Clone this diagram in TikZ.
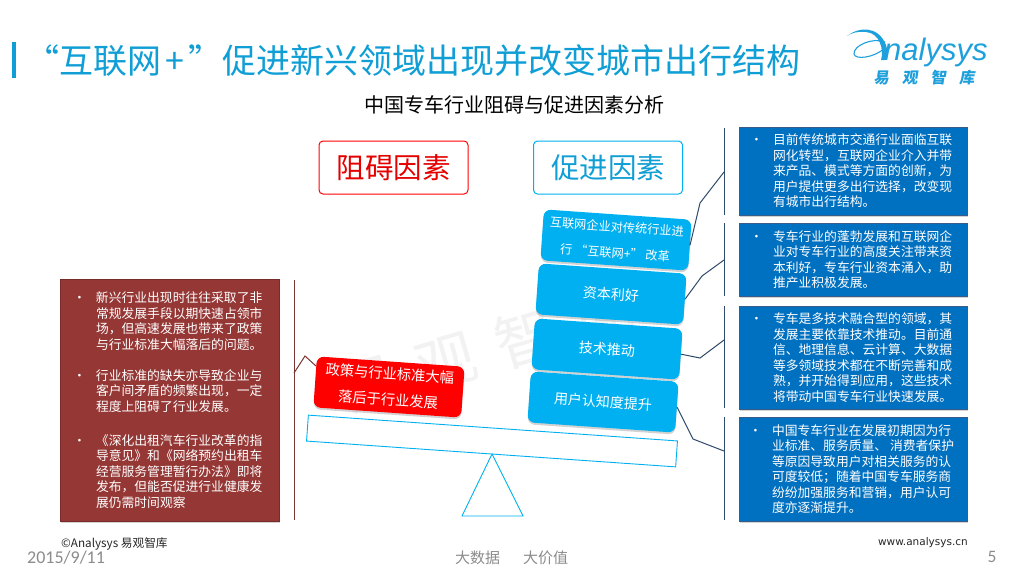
\documentclass[tikz,border=0pt]{standalone}
\usepackage{fontspec}
\usetikzlibrary{shadows}
\setmainfont{Noto Sans CJK SC}
\newfontfamily\latinfont{Carlito}
\newfontfamily\webfont{DejaVu Sans}
\newfontfamily\logofont{Liberation Sans}
\newfontfamily\logocn[FakeSlant=0.15]{Noto Sans CJK SC}
\definecolor{titleblue}{HTML}{0F9ED5}
\definecolor{pillblue}{HTML}{00B0F0}
\definecolor{boxblue}{HTML}{0070C0}
\definecolor{boxedge}{HTML}{385D8A}
\definecolor{boxred}{HTML}{953735}
\definecolor{linedark}{HTML}{2F4A6A}
\definecolor{linered}{HTML}{7A3434}
\definecolor{logoblue}{HTML}{1EA0DC}
\newcommand\sz[2]{\fontsize{#1}{#2}\selectfont}
% #1 box width, #2 left pad, #3 lines
\newcommand\bulletbox[3]{\raisebox{-2pt}{\makebox[#1pt][l]{\hspace*{#2pt}\parbox[c]{\dimexpr#1pt-#2pt\relax}{\raggedright\sz{12.8}{15.5}#3}}}}
\newcommand\bul{\leavevmode\llap{•\hspace{10pt}}}
\tikzset{
  pill/.style={fill=pillblue,text=white,rounded corners=7pt,minimum width=148pt,minimum height=51pt,inner sep=0pt,align=center,rotate=-4,font=\sz{14}{26},
    drop shadow={opacity=.35,shadow xshift=0pt,shadow yshift=-2pt}},
  redpill/.style={pill,fill=red,font=\sz{14.3}{26}},
  infobox/.style={draw=boxedge,line width=.8pt,fill=boxblue,text=white,inner sep=0pt,minimum width=228pt,
    drop shadow={opacity=.35,shadow xshift=1pt,shadow yshift=-2pt}},
  leftbox/.style={infobox,draw=boxred!80!black,fill=boxred,minimum width=219pt},
  headbox/.style={draw,line width=1pt,fill=white,rounded corners=4pt,minimum width=149pt,minimum height=53pt,inner sep=0pt,font=\sz{28.5}{30}},
  bracket/.style={line width=1pt,linedark},
  link/.style={line width=1pt,linedark},
  redlink/.style={line width=1pt,linered},
  scale part/.style={draw=pillblue,line width=.9pt,fill=white},
  foot/.style={inner sep=0pt,text=gray!90},
}
\begin{document}
\begin{tikzpicture}[x=1pt,y=-1pt]
\useasboundingbox (0,0) rectangle (1024,576);
\fill[white] (0,0) rectangle (1024,576);
% watermark
\node[rotate=16,text=gray!10,font=\sz{60}{60},inner sep=0pt] (wm) at (486,350) {易\hspace{22pt}观\hspace{22pt}智\hspace{22pt}库};
% title
\fill[titleblue] (12,42) rectangle (15.5,78);
\node[anchor=west,inner sep=0pt,text=titleblue,font=\sz{34}{38}] (title) at (25,61) {“互联网\hspace{4pt}+\hspace{4pt}”促进新兴领域出现并改变城市出行结构};
\node[inner sep=0pt,font=\sz{20}{24}] (sub) at (514,105) {中国专车行业阻碍与促进因素分析};
% logo
\fill[logoblue] (847,36) .. controls (858,27) and (878,25) .. (886,45) .. controls (888,50) and (887,55) .. (885,60) -- (881,60) .. controls (884,50) and (880,33) .. (866,32) .. controls (858,31) and (851,33) .. (847,36) -- cycle;
\draw[logoblue,line width=1.1pt] (885,42) .. controls (872,37) and (853,46) .. (854,54) .. controls (855,60) and (874,58) .. (885,48);
\node[anchor=base west,inner sep=0pt,text=logoblue,font=\logofont\itshape\sz{31}{33}] (logo) at (884,60) {nalysys};
\node[anchor=center,inner sep=0pt,text=logoblue,font=\logocn\bfseries\sz{15.5}{18}] (logocn) at (924,78) {易\hspace{13pt}观\hspace{13pt}智\hspace{13pt}库};
% heads
\node[headbox,draw=red,text=red!90!black] (hinder) at (393.5,167.5) {阻碍因素};
\node[headbox,draw=pillblue,text=titleblue] (promote) at (608,167.5) {促进因素};
% left box
\node[leftbox,minimum height=242pt] (lb) at (169.5,400) {\bulletbox{219}{36}{%
\bul 新兴行业出现时往往采取了非\\常规发展手段以期快速占领市\\场，但高速发展也带来了政策\\与行业标准大幅落后的问题。\\[15.5pt]
\bul 行业标准的缺失亦导致企业与\\客户间矛盾的频繁出现，一定\\程度上阻碍了行业发展。\\[18.5pt]
\bul 《深化出租汽车行业改革的指\\导意见》和《网络预约出租车\\经营服务管理暂行办法》即将\\发布，但能否促进行业健康发\\展仍需时间观察}};
% right boxes
\node[infobox,minimum height=88pt] (r1) at (853,171) {\bulletbox{228}{34}{%
\bul 目前传统城市交通行业面临互联\\网化转型，互联网企业介入并带\\来产品、模式等方面的创新，为\\用户提供更多出行选择，改变现\\有城市出行结构。}};
\node[infobox,minimum height=73pt] (r2) at (853,259.5) {\bulletbox{228}{34}{%
\bul 专车行业的蓬勃发展和互联网企\\业对专车行业的高度关注带来资\\本利好，专车行业资本涌入，助\\推产业积极发展。}};
\node[infobox,minimum height=103pt] (r3) at (853,357.5) {\bulletbox{228}{34}{%
\bul 专车是多技术融合型的领域，其\\发展主要依靠技术推动。目前通\\信、地理信息、云计算、大数据\\等多领域技术都在不断完善和成\\熟，并开始得到应用，这些技术\\将带动中国专车行业快速发展。}};
\node[infobox,minimum height=104pt] (r4) at (853,469) {\bulletbox{228}{33}{%
\bul 中国专车行业在发展初期因为行\\业标准、服务质量、 消费者保护\\等原因导致用户对相关服务的认\\可度较低；随着中国专车服务商\\纷纷加强服务和营销，用户认可\\度亦逐渐提升。}};
% scale
\node[scale part,rotate=-4,minimum width=370pt,minimum height=26pt,inner sep=0pt] (beam) at (492,441) {};
\draw[scale part] (492,454) -- (523,516) -- (462,516) -- cycle;
% pills
\node[pill,font=\sz{12.2}{26}] (p1) at (616,240) {互联网企业对传统行业进\\行 “互联网+” 改革};
\node[pill] (p2) at (611,294) {资本利好};
\node[pill] (p3) at (607,349) {技术推动};
\node[pill] (p4) at (603,402) {用户认知度提升};
\node[redpill] (red) at (389,387) {政策与行业标准大幅\\落后于行业发展};
% brackets
\coordinate (bl1) at (294,280); \coordinate (bl2) at (294,520); \coordinate (blj) at (294,373);
\coordinate (b1a) at (724,128); \coordinate (b1b) at (724,215); \coordinate (b1j) at (724,172);
\coordinate (b2a) at (724,223); \coordinate (b2b) at (724,296); \coordinate (b2j) at (724,260);
\coordinate (b3a) at (724,306); \coordinate (b3b) at (724,408); \coordinate (b3j) at (724,340);
\coordinate (b4a) at (724,417); \coordinate (b4b) at (724,520); \coordinate (b4j) at (724,451);
\draw[redlink] (bl1) -- (bl2);
\draw[redlink] (blj) -- (305,356) -- (red.168);
\draw[bracket] (b1a) -- (b1b); \draw[bracket] (b2a) -- (b2b);
\draw[bracket] (b3a) -- (b3b); \draw[bracket] (b4a) -- (b4b);
\draw[link] (p1.east) -- (700,203) -- (b1j);
\draw[link] (p2.east) -- (702,276) -- (b2j);
\draw[link] (p3.east) -- (700,358) -- (b3j);
\draw[link] (p4.east) -- (693,439) -- (b4j);
% footer
\node[anchor=west,inner sep=0pt,font=\sz{11.7}{13},text=black!85] (copy) at (61,544) {©Analysys 易观智库};
\node[anchor=west,foot,font=\latinfont\sz{18}{20}] (date) at (27,558) {2015/9/11};
\node[anchor=west,foot,font=\sz{15}{18}] (mid) at (455,558) {大数据\hspace{23pt}大价值};
\node[anchor=east,inner sep=0pt,font=\webfont\sz{10.5}{12},text=black!85] (web) at (968,543) {www.analysys.cn};
\node[foot,font=\latinfont\sz{17.5}{20}] (page) at (992,557) {5};
\end{tikzpicture}
\end{document}
